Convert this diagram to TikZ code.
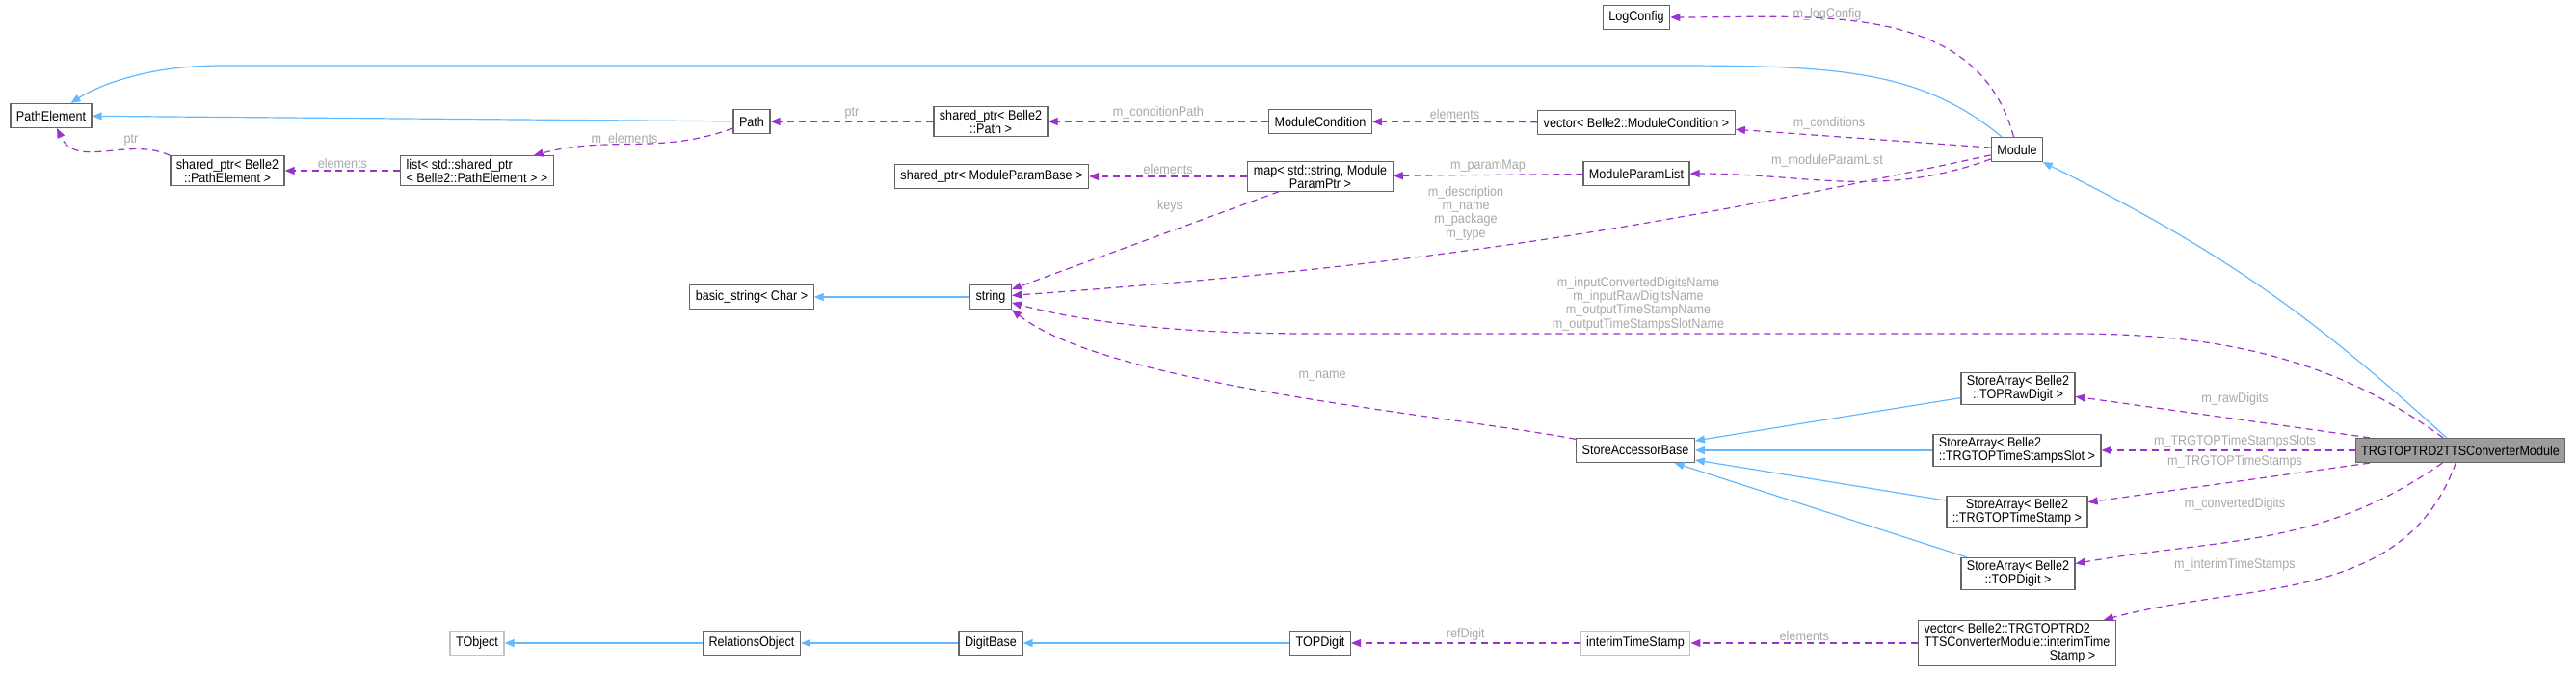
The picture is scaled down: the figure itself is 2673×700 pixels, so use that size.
\documentclass[tikz,border=0pt]{standalone}
\usepackage{fontspec}
\setmainfont{Liberation Sans}[FakeStretch=0.9]
\usepackage{tikz}
\usetikzlibrary{arrows.meta}

\definecolor{edgeblue}{HTML}{63B8FF}
\definecolor{edgepurple}{HTML}{9A32CD}
\definecolor{boxline}{HTML}{666666}
\definecolor{lblgrey}{HTML}{A8A8A8}

\tikzset{
  cls/.style={draw=boxline, line width=0.6pt, fill=white, align=center,
              font=\fontsize{7}{7}\selectfont, inner xsep=3pt, inner ysep=1.5pt,
              minimum height=12.5pt},
  faint/.style={cls, draw=boxline!40},
  main/.style={cls, fill=boxline!65},
  inh/.style={color=edgeblue, line width=0.6pt, -{Triangle[length=5pt,width=4pt]}},
  mem/.style={color=edgepurple, line width=0.6pt, dash pattern=on 3.5pt off 2.5pt,
              -{Triangle[length=5pt,width=4pt]}},
  lbl/.style={text=lblgrey, font=\fontsize{7}{7.2}\selectfont, inner sep=1pt, align=center}
}

\begin{document}
\begin{tikzpicture}[x=0.5pt,y=-0.5pt]
        \useasboundingbox (0,0) rectangle (2673,700);

        \node[cls]   (PathElement)   at (53,120)   {PathElement};
        \node[cls]   (SPPathElement) at (236,177)  {shared\_ptr< Belle2\\::PathElement >};
        \node[cls, align=left] (ListSP) at (495,177) {list< std::shared\_ptr\\< Belle2::PathElement > >};
        \node[cls]   (Path)          at (780,126)  {Path};
        \node[cls]   (SPPath)        at (1028,126) {shared\_ptr< Belle2\\::Path >};
        \node[cls]   (ModCond)       at (1370,126) {ModuleCondition};
        \node[cls]   (VecModCond)    at (1698,127) {vector< Belle2::ModuleCondition >};
        \node[cls]   (LogConfig)     at (1698,18)  {LogConfig};
        \node[cls]   (Module)        at (2093,155) {Module};
        \node[cls]   (SPParamBase)   at (1029,183) {shared\_ptr< ModuleParamBase >};
        \node[cls]   (ParamMap)      at (1370,183) {map< std::string, Module\\ParamPtr >};
        \node[cls]   (ParamList)     at (1698,180) {ModuleParamList};
        \node[cls]   (BasicString)   at (780,308)  {basic\_string< Char >};
        \node[cls]   (String)        at (1028,308) {string};
        \node[cls]   (SABase)        at (1697,467) {StoreAccessorBase};
        \node[main]  (Converter)     at (2553,467) {TRGTOPTRD2TTSConverterModule};
        \node[cls]   (SARawDigit)    at (2094,403) {StoreArray< Belle2\\::TOPRawDigit >};
        \node[cls, align=left] (SASlot) at (2093,467) {StoreArray< Belle2\\::TRGTOPTimeStampsSlot >};
        \node[cls]   (SAStamp)       at (2093,531) {StoreArray< Belle2\\::TRGTOPTimeStamp >};
        \node[cls]   (SADigit)       at (2094,595) {StoreArray< Belle2\\::TOPDigit >};
        \node[cls, align=left] (VecInterim) at (2093,667) {vector< Belle2::TRGTOPTRD2\\TTSConverterModule::interimTime\\\hphantom{TTSConverterModule::i}Stamp >};
        \node[faint] (TObject)       at (495,667)  {TObject};
        \node[cls]   (RelObject)     at (780,667)  {RelationsObject};
        \node[cls]   (DigitBase)     at (1028,667) {DigitBase};
        \node[cls]   (TOPDigit)      at (1370,667) {TOPDigit};
        \node[faint] (Interim)       at (1697,667) {interimTimeStamp};

        % inheritance
        \draw[inh] (Module) .. controls (1990,70) and (1900,68) .. (1720,68) -- (230,68)
                   .. controls (150,68) and (100,90) .. (PathElement);
        \path[inh] (Path)        edge (PathElement)
                   (String)      edge (BasicString)
                   (SARawDigit)  edge (SABase)
                   (SASlot)      edge (SABase)
                   (SAStamp)     edge (SABase)
                   (SADigit)     edge (SABase)
                   (Converter)   edge [bend right=8] (Module)
                   (TOPDigit)    edge (DigitBase)
                   (DigitBase)   edge (RelObject)
                   (RelObject)   edge (TObject);

        % members
        \path[mem]
                  (Module)     edge [out=105, in=0] (LogConfig)
                  (SPPath)     edge node [lbl, above] {ptr}             (Path)
                  (ModCond)    edge node [lbl, above] {m\_conditionPath} (SPPath)
                  (VecModCond) edge node [lbl, above] {elements}        (ModCond)
                  (Module)     edge (VecModCond)
                  (Path)       edge [out=200, in=15] (ListSP)
                  (ListSP)     edge node [lbl, above] {elements}        (SPPathElement)
                  (SPPathElement.north west) edge [out=155, in=-65] (PathElement)
                  (ParamMap)   edge node [lbl, above] {elements}        (SPParamBase)
                  (ParamList)  edge node [lbl, above] {m\_paramMap}      (ParamMap)
                  (Module)     edge [out=200, in=0] (ParamList)
                  (Module)     edge [bend left=4] (String)
                  (ParamMap)   edge (String)
                  (Converter)  edge (SARawDigit)
                  (Converter)  edge (SASlot)
                  (Converter)  edge (SAStamp)
                  (Converter)  edge [out=215, in=10] (SADigit)
                  (Converter)  edge [out=250, in=15] (VecInterim)
                  (VecInterim) edge node [lbl, above] {elements}        (Interim)
                  (Interim)    edge node [lbl, above] {refDigit}        (TOPDigit);
        \draw[mem] (Converter) .. controls (2420,370) and (2300,346) .. (2150,346) -- (1360,346)
                   .. controls (1200,346) and (1110,330) .. (String);
        \draw[mem] (SABase) .. controls (1500,430) and (1150,400) .. (String.south east);

        % labels placed along the curved connectors
        \node[lbl] (lLog)    at (1896,15)  {m\_logConfig};
        \node[lbl] (lCond)   at (1898,128) {m\_conditions};
        \node[lbl] (lElem)   at (648,145)  {m\_elements};
        \node[lbl] (lPtr)    at (136,145)  {ptr};
        \node[lbl] (lParam)  at (1896,167) {m\_moduleParamList};
        \node[lbl] (lDesc)   at (1521,221) {m\_description\\m\_name\\m\_package\\m\_type};
        \node[lbl] (lKeys)   at (1214,214) {keys};
        \node[lbl] (lNames)  at (1700,315) {m\_inputConvertedDigitsName\\m\_inputRawDigitsName\\m\_outputTimeStampName\\m\_outputTimeStampsSlotName};
        \node[lbl] (lName)   at (1372,390) {m\_name};
        \node[lbl] (lRaw)    at (2319,414) {m\_rawDigits};
        \node[lbl] (lSlots)  at (2319,458) {m\_TRGTOPTimeStampsSlots};
        \node[lbl] (lStamps) at (2319,479) {m\_TRGTOPTimeStamps};
        \node[lbl] (lConv)   at (2319,523) {m\_convertedDigits};
        \node[lbl] (lInter)  at (2319,586) {m\_interimTimeStamps};
\end{tikzpicture}
\end{document}
